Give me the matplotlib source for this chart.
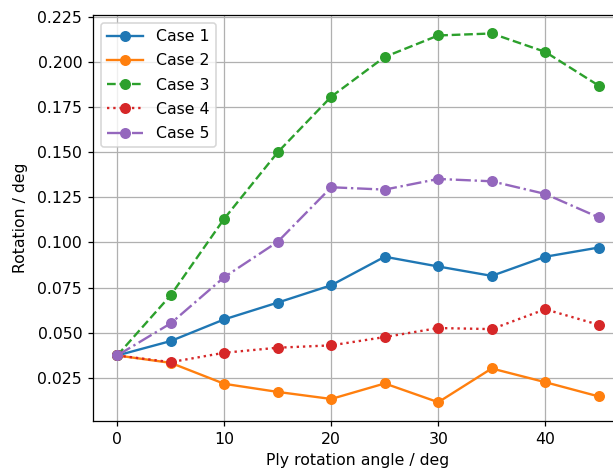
import numpy as np
import matplotlib
matplotlib.use('Agg')
import matplotlib.pyplot as plt

angles = [0, 5, 10, 15, 20, 25, 30, 35, 40, 45]

case1 = [0.0374, 0.0454, 0.0574, 0.0667, 0.0763, 0.0921, 0.0867, 0.0815, 0.0921, 0.0972]
case2 = [0.0374, 0.0333, 0.0217, 0.0172, 0.0133, 0.0219, 0.0115, 0.0302, 0.0226, 0.0147]
case3 = [0.0374, 0.0708, 0.1132, 0.1500, 0.1808, 0.2028, 0.2147, 0.2158, 0.2056, 0.1869]
case4 = [0.0374, 0.0337, 0.0389, 0.0417, 0.0430, 0.0476, 0.0526, 0.0520, 0.0630, 0.0544]
case5 = [0.0374, 0.0552, 0.0808, 0.1004, 0.1306, 0.1293, 0.1352, 0.1339, 0.1269, 0.1139]

DPI = 113
fig = plt.figure(figsize=(613 / DPI, 470 / DPI), dpi=DPI)
# axes run a little past the right edge of the canvas
ax = fig.add_axes([0.152, 0.105, 0.864, 0.863])

ax.plot(angles, case1, '-o', label='Case 1')
ax.plot(angles, case2, '-o', label='Case 2')
ax.plot(angles, case3, '--o', label='Case 3')
ax.plot(angles, case4, ':o', label='Case 4')
ax.plot(angles, case5, '-.o', label='Case 5')

ax.set_xlabel('Ply rotation angle / deg')
ax.set_ylabel('Rotation / deg', labelpad=6)
ax.grid(True)
ax.legend(loc='upper left', handlelength=2.3, labelspacing=0.59)

fig.savefig('out.png', dpi=DPI)
